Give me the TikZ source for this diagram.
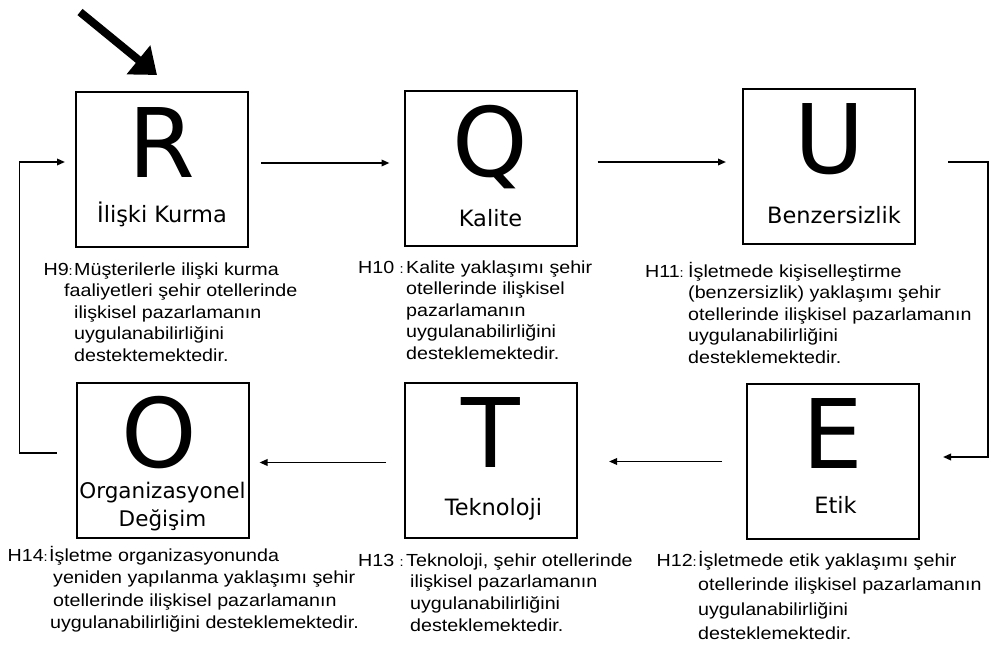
\documentclass[tikz,border=0pt]{standalone}
\usepackage{fontspec}
\usetikzlibrary{arrows.meta,calc}
\newfontfamily\boxfont{DejaVu Sans}
\newfontfamily\hypfont{Liberation Sans}[FakeStretch=1.125]
\newcommand{\smcolon}{{\fontsize{13}{13}\selectfont:}}

\tikzset{
  stage/.style={draw, line width=2pt, minimum width=172pt, minimum height=155pt, inner sep=0pt},
  bigletter/.style={anchor=base, inner sep=0pt, font=\boxfont\fontsize{96}{100}\selectfont},
  stagelabel/.style={anchor=base, inner sep=0pt, font=\boxfont\fontsize{22.5}{28}\selectfont},
  hyplabel/.style={anchor=base east, inner sep=0pt, font=\hypfont\fontsize{17.5}{21.5}\selectfont},
  hyptext/.style={anchor=base west, inner sep=0pt, font=\hypfont\fontsize{17.5}{#1}\selectfont},
  hyptext/.default=21.5,
  conn/.style={line width=1.8pt, -{Triangle[length=8pt,width=6.5pt]}},
  entry/.style={line width=8pt, -{Triangle[length=24pt,width=36pt]}},
}

\begin{document}
\begin{tikzpicture}[x=1pt, y=-1pt]
\useasboundingbox (0,0) rectangle (1007,646);

% --- the six stages ---
\node[stage] (R) at (162,169.5) {};
\node[stage] (Q) at (490.5,168) {};
\node[stage] (U) at (829,166) {};
\node[stage] (E) at (832.5,461.5) {};
\node[stage] (T) at (490.5,460) {};
\node[stage] (O) at (162.5,460) {};

% big initials
\node[bigletter] (Rl) at ($(R.north)+(0,86)$) {R};
\node[bigletter] (Ql) at ($(Q.north)+(0,87)$) {Q};
\node[bigletter] (Ul) at ($(U.north)+(1,86)$) {U};
\node[bigletter] (El) at ($(E.north)+(0,85)$) {E};
\node[bigletter] (Tl) at ($(T.north)+(0,86)$) {T};
\node[bigletter] (Ol) at ($(O.north)+(-3,85.5)$) {O};

% stage names
\node[stagelabel] (Rn) at ($(R.north)+(0,131)$) {İlişki Kurma};
\node[stagelabel] (Qn) at ($(Q.north)+(0,137)$) {Kalite};
\node[stagelabel] (Un) at ($(U.north)+(5,136)$) {Benzersizlik};
\node[stagelabel] (En) at ($(E.north)+(3,130)$) {Etik};
\node[stagelabel] (Tn) at ($(T.north)+(3,134)$) {Teknoloji};
\node[stagelabel, font=\boxfont\fontsize{21.5}{28}\selectfont] (On1) at ($(O.north)+(0,117)$) {Organizasyonel};
\node[stagelabel, font=\boxfont\fontsize{21.5}{28}\selectfont] (On2) at ($(O.north)+(0,145)$) {Değişim};

% --- connectors ---
\coordinate (start) at (80,12);
\draw[entry] (start) -- ($(R.north)+(-5,-16)$);
\draw[conn] ($(R.east)+(12,-6.5)$) -- ($(Q.west)+(-14,-5)$);
\draw[conn] ($(Q.east)+(20,-6)$) -- ($(U.west)+(-16,-4)$);
\draw[conn] ($(U.east)+(32,-4)$) -- ++(40,0) |- ($(E.east)+(23.5,-4.5)$);
\draw[conn] ($(E.west)+(-23.5,0)$) -- ($(T.east)+(31.5,1.5)$);
\draw[conn] ($(T.west)+(-17.5,2.5)$) -- ($(O.east)+(10,2.5)$);
\draw[conn] ($(O.west)+(-19,-7)$) -- ++(-37,0) |- ($(R.west)+(-10,-7.5)$);

% --- hypotheses ---
\node[hyptext] (h9t) at (74,275) {\begin{tabular}[t]{@{}l@{}}
Müşterilerle ilişki kurma\\
\hspace*{-10pt}faaliyetleri şehir otellerinde\\
ilişkisel pazarlamanın\\
uygulanabilirliğini\\
destektemektedir.\end{tabular}};
\node[hyplabel] (h9l) at ($(h9t.base west)+(-1,0)$) {H9\smcolon};

\node[hyptext] (h10t) at (406,273) {\begin{tabular}[t]{@{}l@{}}
Kalite yaklaşımı şehir\\
otellerinde ilişkisel\\
pazarlamanın\\
uygulanabilirliğini\\
desteklemektedir.\end{tabular}};
\node[hyplabel] (h10l) at ($(h10t.base west)+(-2,0)$) {H10 \smcolon};

\node[hyptext] (h11t) at (688,277) {\begin{tabular}[t]{@{}l@{}}
İşletmede kişiselleştirme\\
(benzersizlik) yaklaşımı şehir\\
otellerinde ilişkisel pazarlamanın\\
uygulanabilirliğini\\
desteklemektedir.\end{tabular}};
\node[hyplabel] (h11l) at ($(h11t.base west)+(-4,0)$) {H11\smcolon};

\node[hyptext=24.5] (h12t) at (698,566) {\begin{tabular}[t]{@{}l@{}}
İşletmede etik yaklaşımı şehir\\
otellerinde ilişkisel pazarlamanın\\
uygulanabilirliğini\\
desteklemektedir.\end{tabular}};
\node[hyplabel] (h12l) at ($(h12t.base west)+(-1,0)$) {H12\smcolon};

\node[hyptext=21.7] (h13t) at (406,566) {\begin{tabular}[t]{@{}l@{}}
Teknoloji, şehir otellerinde\\
\hspace*{4pt}ilişkisel pazarlamanın\\
\hspace*{4pt}uygulanabilirliğini\\
\hspace*{4pt}desteklemektedir.\end{tabular}};
\node[hyplabel] (h13l) at ($(h13t.base west)+(-2,0)$) {H13 \smcolon};

\node[hyptext=22.5] (h14t) at (49,561) {\begin{tabular}[t]{@{}l@{}}
İşletme organizasyonunda\\
\hspace*{4pt}yeniden yapılanma yaklaşımı şehir\\
\hspace*{4pt}otellerinde ilişkisel pazarlamanın\\
\hspace*{1pt}uygulanabilirliğini desteklemektedir.\end{tabular}};
\node[hyplabel] (h14l) at ($(h14t.base west)+(-1,0)$) {H14\smcolon};
\end{tikzpicture}
\end{document}
